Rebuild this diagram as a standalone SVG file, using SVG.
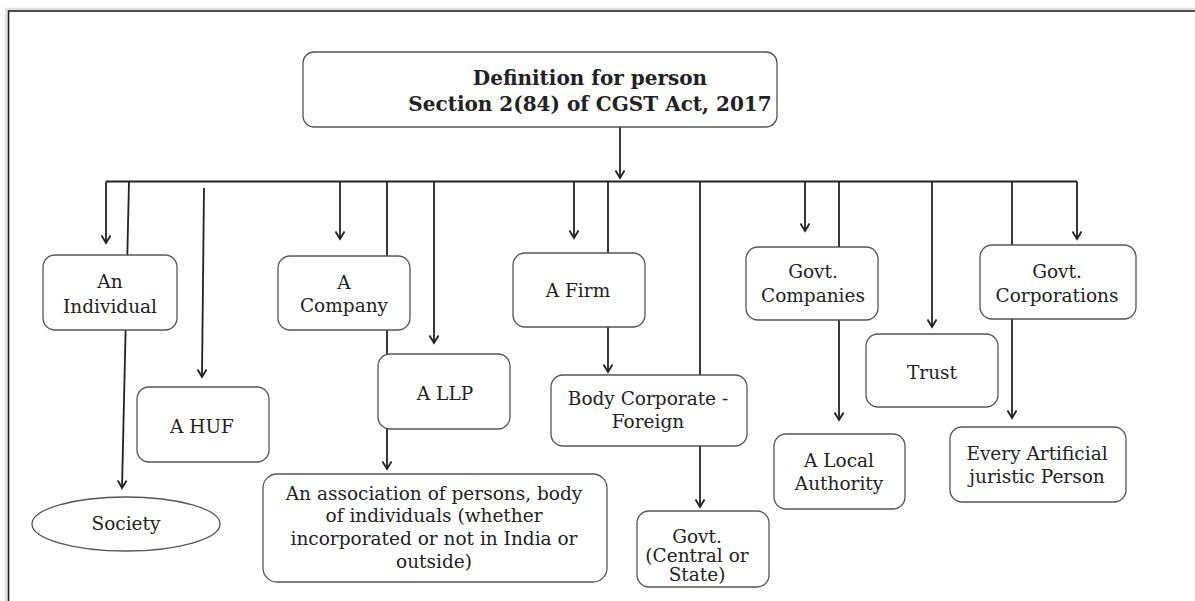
<svg xmlns="http://www.w3.org/2000/svg" width="1195" height="601" viewBox="0 0 1195 601">
<style>
.box{fill:#fff;stroke:#555;stroke-width:1.3}
.t{font-family:"DejaVu Serif","Liberation Serif",serif;font-size:18.5px;fill:#222;text-anchor:middle}
.tb{font-family:"DejaVu Serif","Liberation Serif",serif;font-size:20px;font-weight:bold;fill:#222;text-anchor:middle}
.c{fill:none;stroke:#222;stroke-width:1.8}
</style>
<defs>
<marker id="ah" markerUnits="userSpaceOnUse" markerWidth="12" markerHeight="12" refX="8" refY="5" orient="auto">
<path d="M0.5,0.5 L8,5 L0.5,9.5" fill="none" stroke="#222" stroke-width="1.8"/>
</marker>
</defs>
<rect x="0" y="0" width="1195" height="601" fill="#fff"/>
<rect x="6" y="9" width="1200" height="600" fill="none" stroke="#e0e0e0" stroke-width="2.5"/>
<rect x="8.5" y="11" width="1200" height="600" fill="none" stroke="#222" stroke-width="1.6"/>
<g id="connectors">
<path class="c" d="M620,127 V178" marker-end="url(#ah)"/>
<path class="c" d="M106,181.5 H1077"/>
<path class="c" d="M106,181.5 V243" marker-end="url(#ah)"/>
<path class="c" d="M129,181.5 L122,488" marker-end="url(#ah)"/>
<path class="c" d="M204,188 L202,377" marker-end="url(#ah)"/>
<path class="c" d="M340,181.5 V239" marker-end="url(#ah)"/>
<path class="c" d="M387,181.5 V469" marker-end="url(#ah)"/>
<path class="c" d="M434,181.5 V343" marker-end="url(#ah)"/>
<path class="c" d="M574,181.5 V238" marker-end="url(#ah)"/>
<path class="c" d="M608,181.5 V372" marker-end="url(#ah)"/>
<path class="c" d="M700,181.5 V507" marker-end="url(#ah)"/>
<path class="c" d="M805,181.5 V231" marker-end="url(#ah)"/>
<path class="c" d="M839,181.5 V420" marker-end="url(#ah)"/>
<path class="c" d="M932,181.5 V327" marker-end="url(#ah)"/>
<path class="c" d="M1012,181.5 V418" marker-end="url(#ah)"/>
<path class="c" d="M1077,181.5 V239" marker-end="url(#ah)"/>
</g>
<g id="root">
<rect class="box" x="303" y="52" width="474" height="75" rx="11"/>
<text class="tb" x="590" y="85">Definition for person</text>
<text class="tb" x="590" y="111">Section 2(84) of CGST Act, 2017</text>
</g>
<g id="individual">
<rect class="box" x="43" y="255" width="134" height="75" rx="12"/>
<text class="t" x="110" y="288">An</text>
<text class="t" x="110" y="313">Individual</text>
</g>
<g id="huf">
<rect class="box" x="137" y="387" width="132" height="75" rx="12"/>
<text class="t" x="202" y="433">A HUF</text>
</g>
<g id="society">
<ellipse class="box" cx="126" cy="524" rx="94" ry="27"/>
<text class="t" x="126" y="530">Society</text>
</g>
<g id="company">
<rect class="box" x="278" y="256" width="132" height="74" rx="12"/>
<text class="t" x="344" y="289">A</text>
<text class="t" x="344" y="312">Company</text>
</g>
<g id="llp">
<rect class="box" x="378" y="354" width="132" height="75" rx="12"/>
<text class="t" x="445" y="400">A LLP</text>
</g>
<g id="aop">
<rect class="box" x="263" y="474" width="344" height="108" rx="14"/>
<text class="t" x="434" y="500">An association of persons, body</text>
<text class="t" x="434" y="522">of individuals (whether</text>
<text class="t" x="434" y="545">incorporated or not in India or</text>
<text class="t" x="434" y="568">outside)</text>
</g>
<g id="firm">
<rect class="box" x="513" y="253" width="132" height="74" rx="12"/>
<text class="t" x="578" y="297">A Firm</text>
</g>
<g id="body-corporate">
<rect class="box" x="551" y="375" width="196" height="71" rx="12"/>
<text class="t" x="648" y="405">Body Corporate -</text>
<text class="t" x="648" y="428">Foreign</text>
</g>
<g id="govt-central-state">
<rect class="box" x="637" y="511" width="132" height="76" rx="12"/>
<text class="t" x="697" y="543">Govt.</text>
<text class="t" x="697" y="562">(Central or</text>
<text class="t" x="697" y="581">State)</text>
</g>
<g id="govt-companies">
<rect class="box" x="746" y="247" width="132" height="73" rx="12"/>
<text class="t" x="813" y="278">Govt.</text>
<text class="t" x="813" y="302">Companies</text>
</g>
<g id="local-authority">
<rect class="box" x="774" y="434" width="131" height="75" rx="12"/>
<text class="t" x="839" y="467">A Local</text>
<text class="t" x="839" y="490">Authority</text>
</g>
<g id="trust">
<rect class="box" x="866" y="334" width="132" height="73" rx="12"/>
<text class="t" x="932" y="379">Trust</text>
</g>
<g id="govt-corporations">
<rect class="box" x="980" y="245" width="156" height="74" rx="12"/>
<text class="t" x="1057" y="278">Govt.</text>
<text class="t" x="1057" y="302">Corporations</text>
</g>
<g id="artificial-person">
<rect class="box" x="950" y="427" width="176" height="75" rx="12"/>
<text class="t" x="1037" y="460">Every Artificial</text>
<text class="t" x="1037" y="483">juristic Person</text>
</g>
</svg>
